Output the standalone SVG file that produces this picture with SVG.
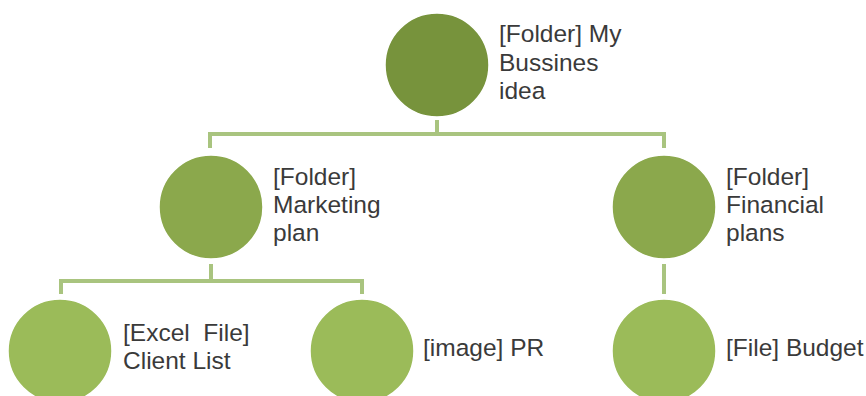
<svg xmlns="http://www.w3.org/2000/svg" width="866" height="396" viewBox="0 0 866 396">
<style>
.lbl{font-family:"Liberation Sans",Arial,sans-serif;font-size:24.5px;fill:#3a3a3a;white-space:pre}
.c1{fill:#77933C;stroke:#ffffff;stroke-width:1.5}
.c2{fill:#8BA84C;stroke:#ffffff;stroke-width:1.5}
.c3{fill:#9BBB59;stroke:#ffffff;stroke-width:1.5}
.con{fill:none;stroke:#A9C47F;stroke-width:4}
</style>
<rect width="866" height="396" fill="#ffffff"/>
<g id="connectors">
<path class="con" d="M437 120 V134 M210 148 V134 H664 V148"/>
<path class="con" d="M211 264 V281 M61 294 V281 H362 V294"/>
<path class="con" d="M664 264 V294"/>
</g>
<g id="n-root">
<circle class="c1" cx="437" cy="65" r="52"/>
<text class="lbl" x="499" y="42">[Folder] My</text>
<text class="lbl" x="499" y="71">Bussines</text>
<text class="lbl" x="499" y="99">idea</text>
</g>
<g id="n-marketing">
<circle class="c2" cx="211" cy="207" r="52"/>
<text class="lbl" x="273" y="185">[Folder]</text>
<text class="lbl" x="273" y="213">Marketing</text>
<text class="lbl" x="273" y="241">plan</text>
</g>
<g id="n-financial">
<circle class="c2" cx="664" cy="207" r="52"/>
<text class="lbl" x="726" y="185">[Folder]</text>
<text class="lbl" x="726" y="213">Financial</text>
<text class="lbl" x="726" y="241">plans</text>
</g>
<g id="n-client">
<circle class="c3" cx="60" cy="351" r="52"/>
<text class="lbl" x="123" y="341" xml:space="preserve">[Excel  File]</text>
<text class="lbl" x="123" y="369">Client List</text>
</g>
<g id="n-pr">
<circle class="c3" cx="362" cy="351" r="52"/>
<text class="lbl" x="423" y="356">[image] PR</text>
</g>
<g id="n-budget">
<circle class="c3" cx="664" cy="351" r="52"/>
<text class="lbl" x="726" y="356">[File] Budget</text>
</g>
</svg>
